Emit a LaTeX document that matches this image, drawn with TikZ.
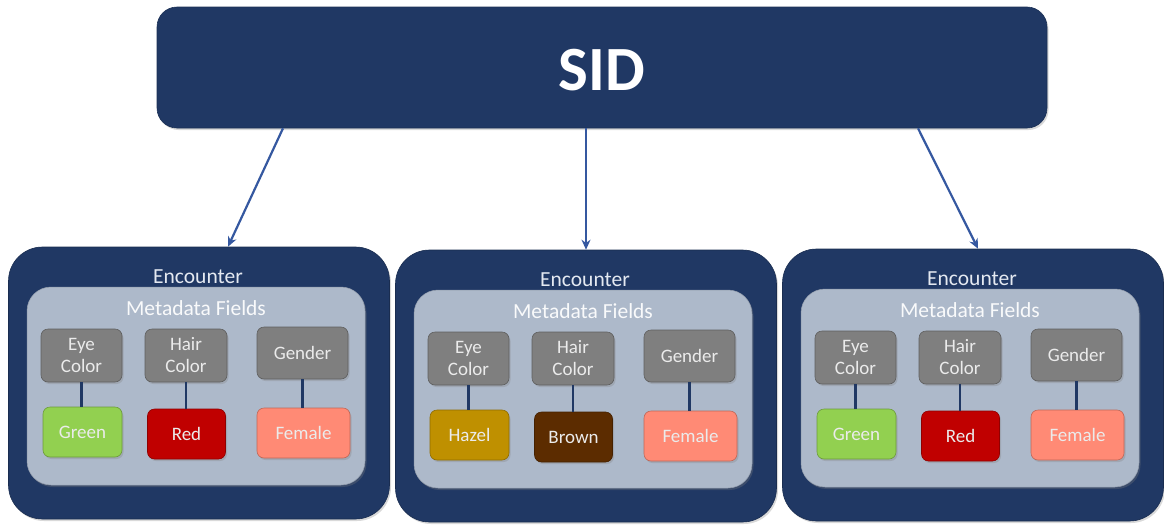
\documentclass[tikz,border=0pt]{standalone}
\usepackage{fontspec}
\setmainfont{Carlito}
\usetikzlibrary{arrows.meta,shadows}
\definecolor{navy}{HTML}{203864}
\definecolor{arrowblue}{HTML}{3558A0}
\definecolor{inner}{HTML}{ADB9CA}
\definecolor{field}{HTML}{7F7F7F}
\definecolor{cgreen}{HTML}{92D050}
\definecolor{cred}{HTML}{C00000}
\definecolor{cfemale}{HTML}{FF8A75}
\definecolor{chazel}{HTML}{BF9000}
\definecolor{cbrown}{HTML}{5C2C00}
\definecolor{lighttext}{HTML}{E4E9F1}
\tikzset{
  shad/.style={drop shadow={shadow xshift=1.5pt,shadow yshift=-2pt,opacity=0.3}},
  sidbox/.style={shad,fill=navy,draw=navy!85!black,line width=0.6pt,rounded corners=20pt,minimum width=890pt,minimum height=121pt,inner sep=0pt},
  encbox/.style={shad,fill=navy,draw=navy!80!black,line width=0.6pt,rounded corners=34pt,minimum width=381pt,minimum height=272pt,inner sep=0pt},
  innerbox/.style={shad,fill=inner,draw=inner!85!black,line width=0.5pt,rounded corners=24pt,minimum width=338pt,minimum height=198pt,inner sep=0pt},
  enclabel/.style={text=lighttext,font=\fontsize{21.5}{25}\selectfont,inner sep=0pt},
  mdlabel/.style={text=white!93!inner,font=\fontsize{21.5}{25}\selectfont,inner sep=0pt},
  fieldbox/.style={shad,fill=field,draw=field!75!black,line width=0.6pt,rounded corners=7pt,minimum height=53pt,inner sep=0pt,align=center,text=white!92!black,font=\fontsize{19}{22}\selectfont},
  valbox/.style={shad,draw=#1!75!black,fill=#1,line width=0.6pt,rounded corners=7pt,minimum height=50pt,inner sep=0pt,text=white!92!black,font=\fontsize{19}{22}\selectfont},
  link/.style={draw=navy,line width=2.4pt},
  arr/.style={draw=arrowblue,line width=2.2pt,-{Stealth[length=10pt,width=9pt]}}
}
\begin{document}
\begin{tikzpicture}[x=1pt,y=-1pt]
\useasboundingbox (0,0) rectangle (1164,525);
\node[sidbox] (sid) at (602,67.5) {};
\node[text=white,font=\bfseries\fontsize{63}{66}\selectfont,inner sep=0pt] (sidt) at (602,70) {SID};
\foreach \i/\dx/\dy/\va/\ca/\vb/\cb in {1/0/0/Green/cgreen/Red/cred,2/387/3/Hazel/chazel/Brown/cbrown,3/774/2/Green/cgreen/Red/cred}{
  \node[encbox] (enc\i) at ({199+\dx},{383+\dy}) {};
  \node[enclabel] (enct\i) at ({198+\dx},{277+\dy}) {Encounter};
  \node[innerbox] (md\i) at ({196+\dx},{386+\dy}) {};
  \node[mdlabel] (mdt\i) at ({196+\dx},{308+\dy}) {Metadata Fields};
  \node[fieldbox,minimum width=81pt] (eye\i) at ({81.5+\dx},{355.5+\dy}) {Eye\\Color};
  \node[fieldbox,minimum width=82pt] (hair\i) at ({186+\dx},{355.5+\dy}) {Hair\\Color};
  \node[fieldbox,minimum width=91pt,minimum height=52pt] (gen\i) at ({302.5+\dx},{353+\dy}) {Gender};
  \node[valbox=\ca,minimum width=79pt] (va\i) at ({82.5+\dx},{432+\dy}) {\va};
  \node[valbox=\cb,minimum width=78pt] (vb\i) at ({186.5+\dx},{434+\dy}) {\vb};
  \node[valbox=cfemale,minimum width=93pt] (vc\i) at ({303.5+\dx},{433+\dy}) {Female};
  \draw[link] (eye\i.south) -- (eye\i.south |- va\i.north);
  \draw[link] (hair\i.south) -- (hair\i.south |- vb\i.north);
  \draw[link] (gen\i.south) -- (gen\i.south |- vc\i.north);
}
\draw[arr] (sid.south -| 283,0) -- (enc1.north -| 228,0);
\draw[arr] (sid.south -| 586,0) -- (enc2.north -| 586,0);
\draw[arr] (sid.south -| 918,0) -- (enc3.north -| 978,0);
\end{tikzpicture}
\end{document}
